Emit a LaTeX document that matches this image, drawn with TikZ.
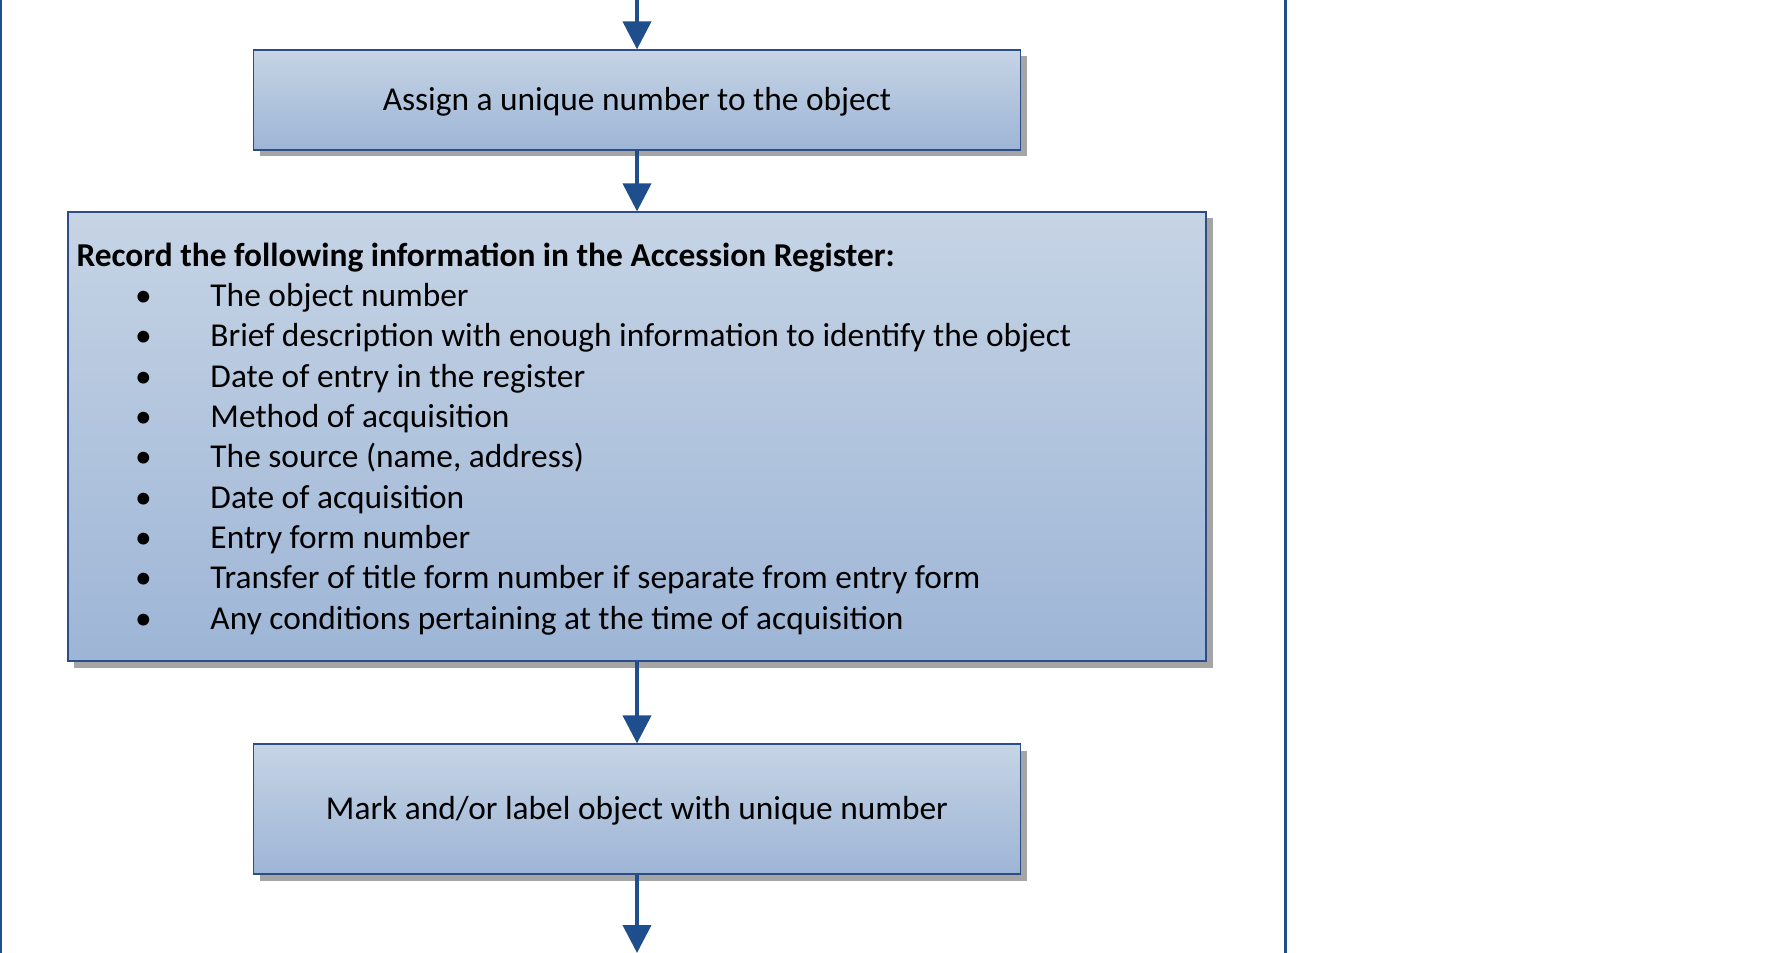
\documentclass[tikz,border=0pt]{standalone}
\usepackage{fontspec}
\setmainfont{Carlito}
\usetikzlibrary{arrows.meta,shadows}
\definecolor{BoxTop}{HTML}{C6D4E5}
\definecolor{BoxBottom}{HTML}{9DB5D6}
\definecolor{BoxEdge}{HTML}{2C4D87}
\definecolor{FlowBlue}{HTML}{1F4E8C}
\definecolor{ShadowGray}{HTML}{A5A5A5}
\newcommand{\RegText}{\fontsize{9.5}{11.48}\selectfont}
\newcommand{\RegItem}[1]{\makebox[1.34cm]{\textbullet}#1}
\newcommand{\RegTopStrut}{\rule{0pt}{\dimexpr\fontcharht\font`\l+0.045cm\relax}}
\tikzset{
  stepbox/.style={
    rectangle,
    draw=BoxEdge,
    line width=0.35pt,
    top color=BoxTop,
    bottom color=BoxBottom,
    align=center,
    inner sep=0pt,
    text=black,
    font=\RegText,
    text height=7.8pt,
    text depth=1.9pt,
    drop shadow={shadow xshift=0.065cm, shadow yshift=-0.065cm, fill=ShadowGray, opacity=1}
  },
  listbox/.style={stepbox, align=flush left, inner xsep=0.085cm, text height=, text depth=},
  flowarrow/.style={
    -{Triangle[length=0.28cm,width=0.28cm]},
    draw=FlowBlue,
    line width=1.15pt
  },
  laneline/.style={draw=FlowBlue, line width=0.8pt}
}

\begin{document}
\begin{tikzpicture}[x=1cm,y=1cm]
\path[use as bounding box] (0,-9.53) rectangle (17.67,0);

% swimlane borders
\draw[laneline, line width=0.6pt] (0.01,0) -- (0.01,-9.53);
\draw[laneline] (12.855,0) -- (12.855,-9.53);

\coordinate (flowin) at (6.37,0);
\coordinate (flowout) at (6.37,-9.53);

\node[stepbox, minimum width=7.67cm, minimum height=1.00cm] (assign) at (6.37,-1.00)
  {Assign a unique number to the object};
\node[listbox, minimum height=4.49cm, text width=11.21cm] (record) at (6.37,-4.365)
  {\textbf{\RegTopStrut Record the following information in the Accession Register:}\\
  \RegItem{The object number}\\
  \RegItem{Brief description with enough information to identify the object}\\
  \RegItem{Date of entry in the register}\\
  \RegItem{Method of acquisition}\\
  \RegItem{The source (name, address)}\\
  \RegItem{Date of acquisition}\\
  \RegItem{Entry form number}\\
  \RegItem{Transfer of title form number if separate from entry form}\\
  \RegItem{Any conditions pertaining at the time of acquisition}};
\node[stepbox, minimum width=7.67cm, minimum height=1.30cm] (mark) at (6.37,-8.09)
  {Mark and/or label object with unique number};

\draw[flowarrow] (flowin) -- (assign.north);
\draw[flowarrow] (assign.south) -- (record.north);
\draw[flowarrow] (record.south) -- (mark.north);
\draw[flowarrow] (mark.south) -- (flowout);

\end{tikzpicture}
\end{document}
